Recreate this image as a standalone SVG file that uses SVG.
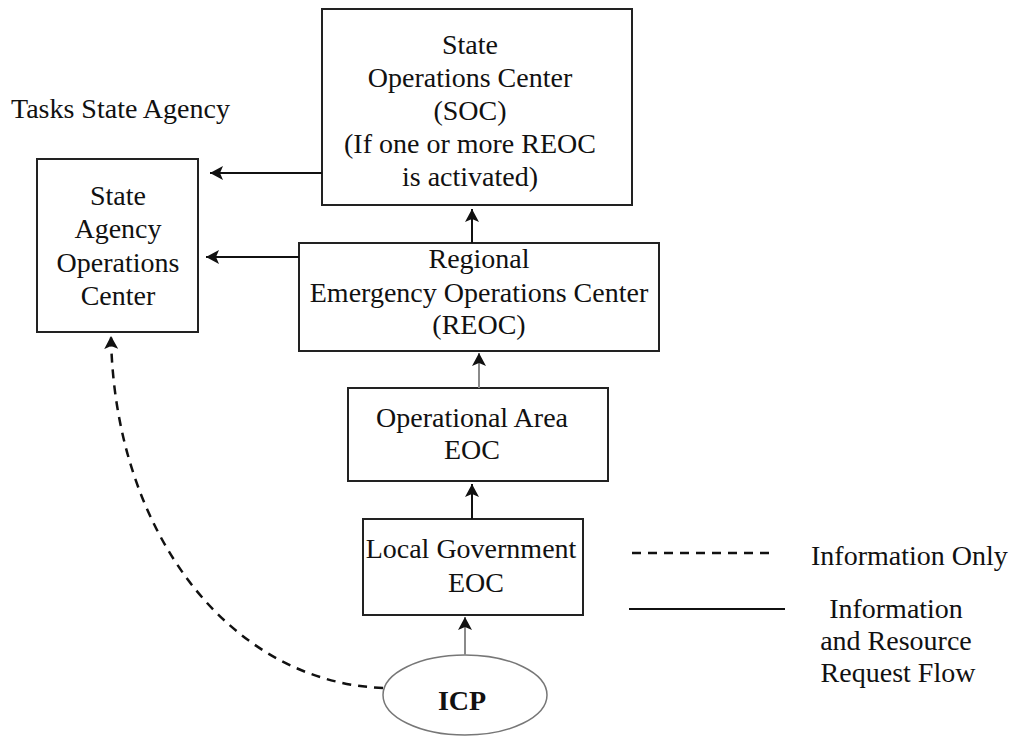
<svg xmlns="http://www.w3.org/2000/svg" width="1014" height="736" viewBox="0 0 1014 736">
  <defs>
    <style>
      .box { fill: #fff; stroke: #222; stroke-width: 2; }
      .t { font-family: "Liberation Serif", "Times New Roman", serif; font-size: 28px; fill: #111; text-anchor: middle; }
      .tl { font-family: "Liberation Serif", "Times New Roman", serif; font-size: 28px; fill: #111; }
      .c { fill: none; stroke: #111; stroke-width: 2; }
      .cg { fill: none; stroke: #8a8a8a; stroke-width: 2; }
      .dash { fill: none; stroke: #111; stroke-width: 2.5; stroke-dasharray: 9 7; }
    </style>
    <marker id="ah" markerUnits="userSpaceOnUse" markerWidth="14" markerHeight="14" refX="13" refY="7" orient="auto">
      <path d="M0,0 L13,7 L0,14 L3,7 Z" fill="#111"/>
    </marker>
  </defs>

  <text class="tl" x="11" y="118">Tasks State Agency</text>

  <g id="soc">
    <rect class="box" x="322" y="9" width="310" height="196"/>
    <text class="t" x="470" y="54">State</text>
    <text class="t" x="470" y="87">Operations Center</text>
    <text class="t" x="470" y="120">(SOC)</text>
    <text class="t" x="470" y="153">(If one or more REOC</text>
    <text class="t" x="470" y="186">is activated)</text>
  </g>

  <g id="saoc">
    <rect class="box" x="37" y="159" width="161" height="173"/>
    <text class="t" x="118" y="205">State</text>
    <text class="t" x="118" y="238">Agency</text>
    <text class="t" x="118" y="272">Operations</text>
    <text class="t" x="118" y="305">Center</text>
  </g>

  <g id="reoc">
    <rect class="box" x="299" y="243" width="360" height="108"/>
    <text class="t" x="479" y="268">Regional</text>
    <text class="t" x="479" y="302">Emergency Operations Center</text>
    <text class="t" x="479" y="334">(REOC)</text>
  </g>

  <g id="oparea">
    <rect class="box" x="348" y="388" width="260" height="93"/>
    <text class="t" x="472" y="427">Operational Area</text>
    <text class="t" x="472" y="459">EOC</text>
  </g>

  <g id="localgov">
    <rect class="box" x="363" y="519" width="220" height="96"/>
    <text class="t" x="471" y="558">Local Government</text>
    <text class="t" x="476" y="592">EOC</text>
  </g>

  <g id="icp">
    <ellipse cx="465" cy="695" rx="82" ry="40" fill="#fff" stroke="#777" stroke-width="1.5"/>
    <text class="t" x="462" y="710" font-weight="bold">ICP</text>
  </g>

  <g id="connectors">
    <line class="c" x1="322" y1="173" x2="210" y2="173" marker-end="url(#ah)"/>
    <line class="c" x1="299" y1="257" x2="206" y2="257" marker-end="url(#ah)"/>
    <line class="c" x1="472" y1="243" x2="472" y2="209" marker-end="url(#ah)"/>
    <line class="cg" x1="479" y1="388" x2="479" y2="353" marker-end="url(#ah)"/>
    <line class="c" x1="472" y1="519" x2="472" y2="484" marker-end="url(#ah)"/>
    <line class="cg" x1="465" y1="655" x2="465" y2="617" marker-end="url(#ah)"/>
    <path class="dash" d="M383,688 C228,682 114,530 111,336" marker-end="url(#ah)"/>
  </g>

  <g id="legend">
    <line class="dash" x1="632" y1="553" x2="773" y2="553" stroke-width="2" stroke-dasharray="8 7"/>
    <line class="c" x1="629" y1="609" x2="785" y2="609"/>
    <text class="tl" x="811" y="565">Information Only</text>
    <text class="t" x="896" y="618">Information</text>
    <text class="t" x="896" y="650">and Resource</text>
    <text class="t" x="898" y="682">Request Flow</text>
  </g>
</svg>
